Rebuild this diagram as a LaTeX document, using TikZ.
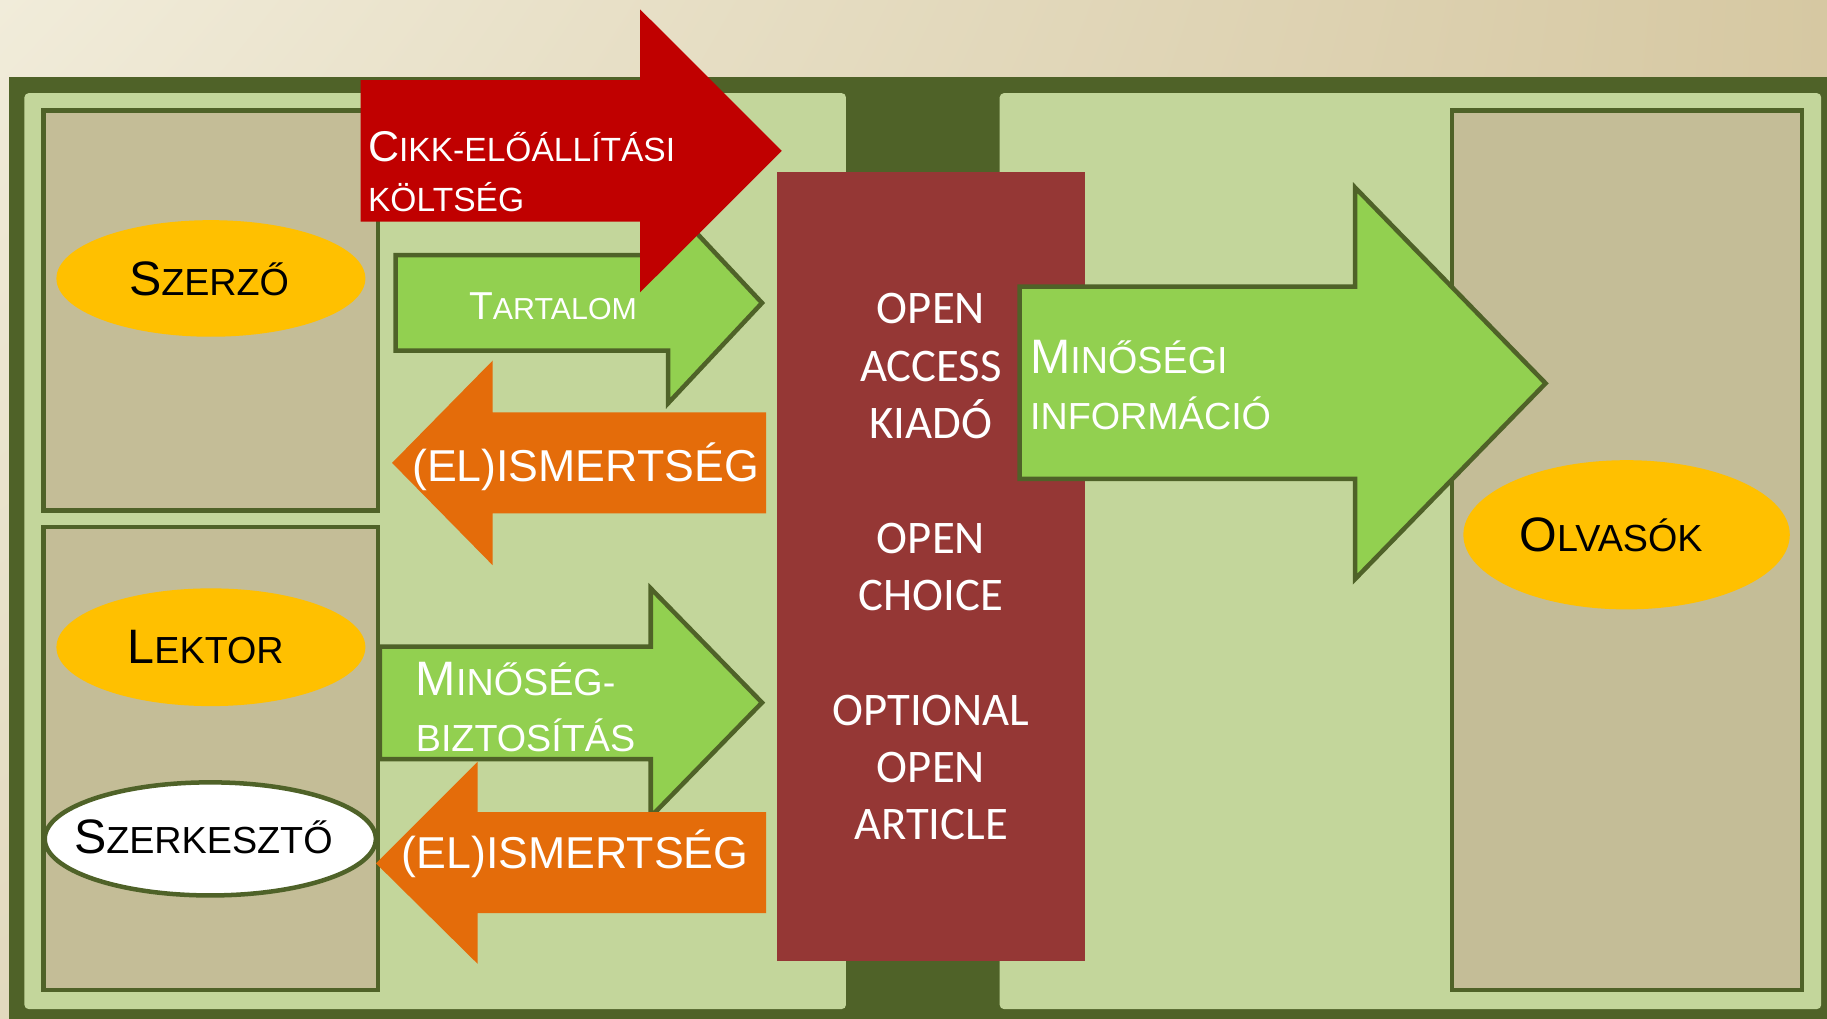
\documentclass[tikz,border=0pt]{standalone}
\usepackage{fontspec}
\setmainfont{Liberation Sans}
\newfontfamily\calibri{Carlito}
\usetikzlibrary{shapes.geometric, shadings}

\definecolor{bgA}{HTML}{F1ECDA}
\definecolor{bgB}{HTML}{D6C8A2}
\definecolor{bgC}{HTML}{E2D9BE}
\definecolor{darkolive}{HTML}{4F6228}
\definecolor{panelgreen}{HTML}{C3D69B}
\definecolor{boxtan}{HTML}{C4BD97}
\definecolor{gold}{HTML}{FFC000}
\definecolor{leaf}{HTML}{92D050}
\definecolor{rust}{HTML}{E46C0A}
\definecolor{crimson}{HTML}{C00000}
\definecolor{maroon}{HTML}{953735}

% first letter full size, the rest as small capitals
\makeatletter
\newcommand{\capsc}[2]{#1{\fontsize{\fpeval{0.78*\f@size}}{\f@baselineskip}\selectfont #2}}
\makeatother

\begin{document}
\begin{tikzpicture}[x=0.01cm, y=-0.01cm,
    boxline/.style={draw=darkolive, line width=1.1pt, fill=boxtan},
    actor/.style={ellipse, fill=gold, inner sep=0pt},
    actortext/.style={anchor=base, inner sep=0pt, text=black, font=\fontsize{11.8}{14}\selectfont},
    greenarrow/.style={fill=leaf, draw=darkolive, line width=1.1pt},
    arrowtext/.style={inner sep=0pt, text=white}]
    \useasboundingbox (0,0) rectangle (1568,874);

    % Background, frame and panels
    \shade[upper left=bgA, upper right=bgB, lower left=bgC, lower right=bgB] (0,0) rectangle (1568,874);
    \fill[darkolive] (8,66) rectangle (1580,880);
    \fill[panelgreen, rounded corners=1pt] (21,80) rectangle (726,866);
    \fill[panelgreen, rounded corners=1pt] (858,80) rectangle (1563,866);

    % Actor boxes
    \draw[boxline] (37.5,95) rectangle (324.5,438);
    \draw[boxline] (37.5,452.5) rectangle (324.5,849.5);
    \draw[boxline] (1246,95) rectangle (1546.5,849.5);

    % Actors
    \node[actor, minimum width=2.65cm, minimum height=1cm] (szerzo) at (181,239) {};
    \node[actortext] (szerzo-text) at (179.4,253.2) {\capsc{S}{ZERZŐ}};
    \node[actor, minimum width=2.65cm, minimum height=1.01cm] (lektor) at (181,555.5) {};
    \node[actortext] (lektor-text) at (176.5,569.3) {\capsc{L}{EKTOR}};
    \node[actor, fill=white, draw=darkolive, line width=1.1pt, minimum width=2.84cm, minimum height=0.97cm] (szerkeszto) at (180.5,720) {};
    \node[actortext] (szerkeszto-text) at (174.5,732.3) {\capsc{S}{ZERKESZTŐ}};
    \node[actor, minimum width=2.8cm, minimum height=1.28cm] (olvasok) at (1396,459) {};
    \node[actortext] (olvasok-text) at (1382.7,473.5) {\capsc{O}{LVASÓK}};

    % Publisher
    \node[fill=maroon, minimum width=2.64cm, minimum height=6.77cm, inner sep=0pt, align=center, text=white,
          font=\calibri\fontsize{11.4}{14}\selectfont] (kiado) at (799,486.5)
          {OPEN\\ACCESS\\KIADÓ\\[14pt]OPEN\\CHOICE\\[14pt]OPTIONAL\\OPEN\\ARTICLE};

    % Arrows between authors and publisher
    \draw[greenarrow] (339.5,219) -- (573.5,219) -- (573.5,174) -- (654,260) -- (573.5,346) -- (573.5,301) -- (339.5,301) -- cycle;
    \fill[crimson] (309.4,68.7) -- (549.3,68.7) -- (549.3,8) -- (671,129.5) -- (549.3,251) -- (549.3,190.3) -- (309.4,190.3) -- cycle;
    \fill[rust] (336.5,397.3) -- (422.7,309.6) -- (422.7,354) -- (657.6,354) -- (657.6,440.6) -- (422.7,440.6) -- (422.7,485) -- cycle;
    \draw[greenarrow] (326,555) -- (558.5,555) -- (558.5,505) -- (654,603) -- (558.5,701) -- (558.5,651.5) -- (326,651.5) -- cycle;
    \fill[rust] (322.7,741) -- (410,653.7) -- (410,697) -- (657.6,697) -- (657.6,783.8) -- (410,783.8) -- (410,827.3) -- cycle;

    % Arrow to the readers
    \draw[greenarrow] (875,246) -- (1163,246) -- (1163,161) -- (1326.5,329) -- (1163,497) -- (1163,411) -- (875,411) -- cycle;

    % Arrow labels (base = last line)
    \node[arrowtext, anchor=base west, align=left, font=\fontsize{10.5}{12.2}\selectfont] (cikk) at (315.2,181.7)
        {\capsc{C}{IKK-ELŐÁLLÍTÁSI}\\\capsc{}{KÖLTSÉG}};
    \node[arrowtext, anchor=base west, font=\fontsize{9.5}{12}\selectfont] (tartalom) at (402,274.6) {\capsc{T}{ARTALOM}};
    \node[arrowtext, anchor=base, font=\fontsize{10.9}{13}\selectfont] (elismeres1) at (502.5,413.4) {(EL)ISMERTSÉG};
    \node[arrowtext, anchor=base west, align=left, font=\fontsize{11.8}{13.8}\selectfont] (minoseg) at (356.2,645.1)
        {\capsc{M}{INŐSÉG-}\\\capsc{}{BIZTOSÍTÁS}};
    \node[arrowtext, anchor=base, font=\fontsize{10.9}{13}\selectfont] (elismeres2) at (493.5,745.2) {(EL)ISMERTSÉG};
    \node[arrowtext, anchor=base west, align=left, font=\fontsize{11.8}{13.8}\selectfont] (minosegi) at (883.4,369)
        {\capsc{M}{INŐSÉGI}\\\capsc{}{INFORMÁCIÓ}};
\end{tikzpicture}
\end{document}
